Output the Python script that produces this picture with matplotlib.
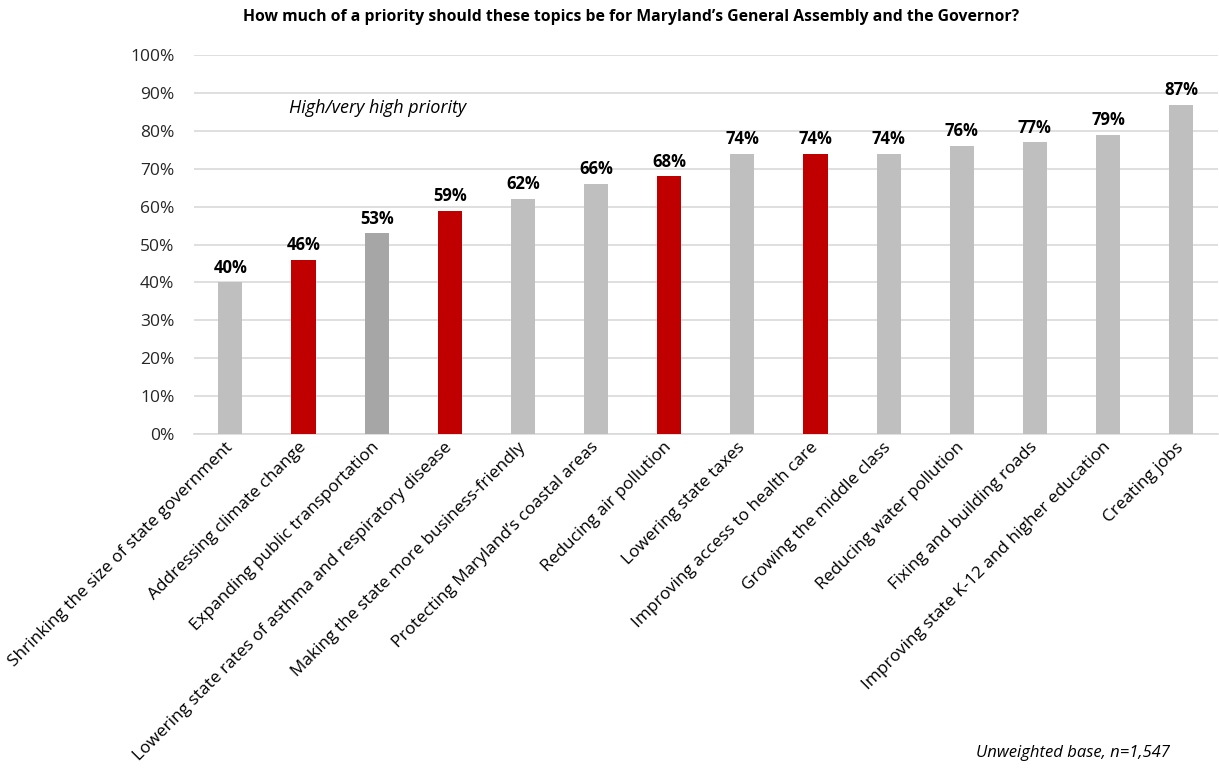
import matplotlib.pyplot as plt
from matplotlib.ticker import PercentFormatter

topics = [
    'Shrinking the size of state government',
    'Addressing climate change',
    'Expanding public transportation',
    'Lowering state rates of asthma and respiratory disease',
    'Making the state more business-friendly',
    'Protecting Maryland\u2019s coastal areas',
    'Reducing air pollution',
    'Lowering state taxes',
    'Improving access to health care',
    'Growing the middle class',
    'Reducing water pollution',
    'Fixing and building roads',
    'Improving state K-12 and higher education',
    'Creating jobs',
]
pct = [40, 46, 53, 59, 62, 66, 68, 74, 74, 74, 76, 77, 79, 87]
bar_colors = ['#BFBFBF', '#C00000', '#A6A6A6', '#C00000', '#BFBFBF', '#BFBFBF', '#C00000',
              '#BFBFBF', '#C00000', '#BFBFBF', '#BFBFBF', '#BFBFBF', '#BFBFBF', '#BFBFBF']

plt.rcParams['font.family'] = ['Open Sans', 'DejaVu Sans']

fig = plt.figure(figsize=(12.19, 7.68), dpi=100)
ax = fig.add_axes([0.159, 0.435, 0.84, 0.493])

x = list(range(len(topics)))
ax.bar(x, pct, width=0.33, color=bar_colors, zorder=3)
for xi, v in zip(x, pct):
    ax.text(xi, v + 1.5, f'{v}%', ha='center', va='bottom', fontsize=12,
            fontweight='bold', color='black')

ax.set_xlim(-0.5, len(topics) - 0.5)
ax.set_ylim(0, 100)
ax.set_yticks(range(0, 101, 10))
ax.yaxis.set_major_formatter(PercentFormatter(decimals=0))
ax.grid(axis='y', color='#D9D9D9', linewidth=1.2, zorder=0)
for side in ['left', 'right', 'top']:
    ax.spines[side].set_visible(False)
ax.spines['bottom'].set_color('#D9D9D9')
ax.spines['bottom'].set_linewidth(1.2)
ax.tick_params(axis='both', length=0, labelsize=12.5, colors='#262626')
ax.tick_params(axis='y', pad=14)

ax.set_xticks(x)
ax.set_xticklabels(topics, rotation=45, ha='right', va='center',
                   rotation_mode='anchor', fontsize=12.4, color='black')
ax.tick_params(axis='x', pad=8)

ax.text(0.093, 0.86, 'High/very high priority', transform=ax.transAxes,
        fontsize=13, style='italic', ha='left', va='center')
fig.text(0.518, 0.978, 'How much of a priority should these topics be for Maryland\u2019s General Assembly and the Governor?',
         ha='center', va='center', fontsize=11.3, fontweight='bold')
fig.text(0.96, 0.02, 'Unweighted base, n=1,547', ha='right', va='center',
         fontsize=12, style='italic')

fig.savefig('out.png', dpi=100)
